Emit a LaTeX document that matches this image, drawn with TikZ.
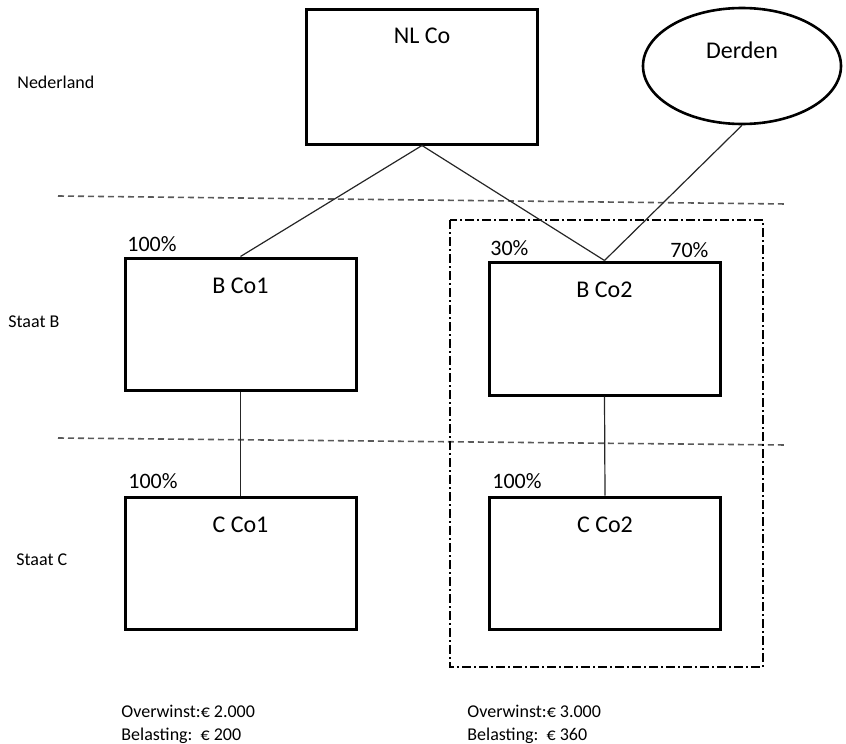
\documentclass[tikz,border=0pt]{standalone}
\usepackage{fontspec}
\setmainfont{Carlito}
\usetikzlibrary{shapes.geometric}

\begin{document}
\begin{tikzpicture}[x=0.5pt, y=-0.5pt,
  company/.style={draw, line width=1.5pt, minimum width=115.5pt,
    minimum height=66pt, inner sep=0pt},
  coname/.style={font=\fontsize{12}{14}\selectfont, anchor=base, inner sep=0pt},
  pct/.style={font=\fontsize{11}{13}\selectfont, anchor=base west, inner sep=0pt},
  note/.style={font=\fontsize{9}{11}\selectfont, anchor=base west, inner sep=0pt},
  holding/.style={black!85, line width=0.6pt},
  stateline/.style={black!65, line width=0.8pt, dash pattern=on 3pt off 2pt},
  fiscalunit/.style={line width=1pt, dash pattern=on 4.5pt off 1.5pt on 1pt off 1.5pt}]

  \useasboundingbox (0,0) rectangle (846,744);

  % State borders
  \draw [stateline] (58,196) -- (787,204);
  \draw [stateline] (58,438) -- (787,445);

  % Fiscal unity
  \draw [fiscalunit] (450,220) rectangle (763,667);

  % Companies
  \node [company, minimum height=67.5pt] (nlco) at (422,76.5) {};
  \node [draw, ellipse, line width=1.3pt, minimum width=99pt, minimum height=58pt,
    inner sep=0pt] (derden) at (742,66) {};
  \node [company] (bco1) at (240.5,324) {};
  \node [company, minimum height=66.5pt] (bco2) at (604.5,328.5) {};
  \node [company] (cco1) at (240.5,563) {};
  \node [company] (cco2) at (605,563) {};

  \node [coname] (nlco-t) at (422,43) {NL Co};
  \node [coname] (derden-t) at (742,58) {Derden};
  \node [coname] (bco1-t) at (240.5,293) {B Co1};
  \node [coname] (bco2-t) at (604.5,297) {B Co2};
  \node [coname] (cco1-t) at (240.5,532) {C Co1};
  \node [coname] (cco2-t) at (605,532) {C Co2};

  % Shareholdings
  \draw [holding] (nlco.south) -- (bco1.north);
  \draw [holding] (nlco.south) -- (bco2.north);
  \draw [holding] (derden.south) -- (bco2.north);
  \draw [holding] (bco1.south) -- (cco1.north);
  \draw [holding] (bco2.south) -- (cco2.north);

  \node [pct] (p-bco1) at (127,251) {100\%};
  \node [pct] (p-bco2a) at (490,255) {30\%};
  \node [pct] (p-bco2b) at (670,257) {70\%};
  \node [pct] (p-cco1) at (128,488) {100\%};
  \node [pct] (p-cco2) at (492,488) {100\%};

  % States
  \node [note] (nl) at (17,88) {Nederland};
  \node [note] (staatb) at (8,327) {Staat B};
  \node [note] (staatc) at (16,565) {Staat C};

  % Profits and tax
  \node [note] (winst1) at (121,717) {Overwinst:€ 2.000};
  \node [note] (bel1) at (121,740) {Belasting:\ \ € 200};
  \node [note] (winst2) at (467,717) {Overwinst:€ 3.000};
  \node [note] (bel2) at (467,740) {Belasting:\ \ € 360};

\end{tikzpicture}
\end{document}
